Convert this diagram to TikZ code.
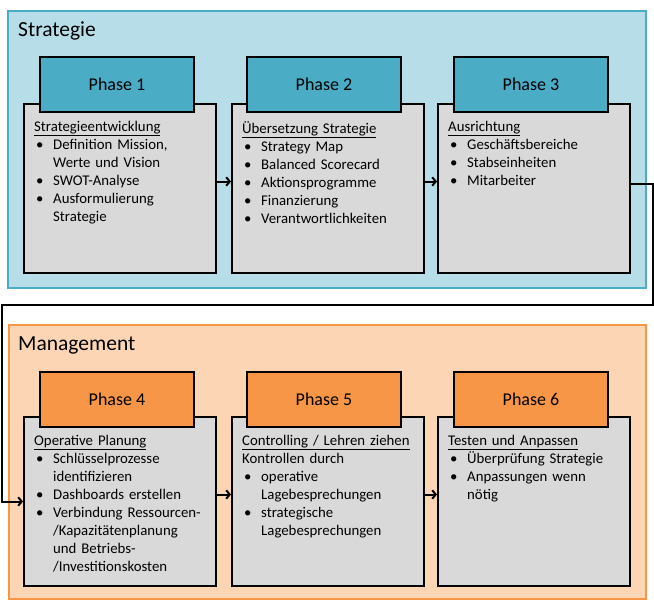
\documentclass[tikz,border=0pt]{standalone}
\usepackage{fontspec}
\setmainfont{Carlito}
\usetikzlibrary{arrows.meta}
\setlength{\parindent}{0pt}

\definecolor{stratfill}{HTML}{B7DEE8}
\definecolor{stratline}{HTML}{4BACC6}
\definecolor{mgmtfill}{HTML}{FCD5B5}
\definecolor{mgmtline}{HTML}{F79646}
\definecolor{boxgray}{HTML}{D9D9D9}

% bullet item, and a continued line under its text
\newcommand{\bul}{\par\noindent\makebox[19bp][l]{\hspace{2bp}\textbullet}}
\newcommand{\cont}{\par\noindent\hspace*{19bp}}

\begin{document}
\begin{tikzpicture}[x=1bp, y=-1bp, >={Straight Barb[length=3.5bp,width=8.5bp]},
        panel/.style={draw, line width=2bp, anchor=north west, inner sep=0pt},
        phasebox/.style={draw, line width=2bp, fill=boxgray, anchor=north west,
            minimum width=192bp, minimum height=169bp, inner sep=0pt},
        phasehead/.style={draw, line width=2bp, anchor=north west,
            minimum width=154bp, minimum height=55bp, inner sep=0pt,
            font=\fontsize{18bp}{21bp}\selectfont},
        phasetext/.style={anchor=north west, text width=185bp, align=left, inner sep=0pt,
            font=\fontsize{14.8bp}{18bp}\selectfont},
        title/.style={anchor=base west, inner sep=0pt, font=\fontsize{21.5bp}{25bp}\selectfont},
        conn/.style={->, line width=2bp}]
    \useasboundingbox (0,0) rectangle (654,602);

    % the two areas
    \node[panel, fill=stratfill, draw=stratline, minimum width=638bp, minimum height=277bp] (strat) at (7,10) {};
    \node[panel, fill=mgmtfill, draw=mgmtline, minimum width=637bp, minimum height=274bp] (mgmt) at (8,324) {};
    \node[title] (stratlbl) at (18,37) {Strategie};
    \node[title] (mgmtlbl)  at (18,350) {Management};

    % Strategie
    \node[phasebox] (b1) at (23,103) {};
    \node[phasebox] (b2) at (231,103) {};
    \node[phasebox] (b3) at (437,103) {};
    \node[phasehead, fill=stratline] (h1) at (39,56) {Phase 1};
    \node[phasehead, fill=stratline] (h2) at (246,56) {Phase 2};
    \node[phasehead, fill=stratline] (h3) at (453,56) {Phase 3};

    \node[phasetext] (t1) at (34,121) {\underline{Strategieentwicklung}
        \bul Definition Mission,
        \cont Werte und Vision
        \bul SWOT-Analyse
        \bul Ausformulierung
        \cont Strategie};
    \node[phasetext] (t2) at (242,121) {\underline{Übersetzung Strategie}
        \bul Strategy Map
        \bul Balanced Scorecard
        \bul Aktionsprogramme
        \bul Finanzierung
        \bul Verantwortlichkeiten};
    \node[phasetext] (t3) at (448,121) {\underline{Ausrichtung}
        \bul Geschäftsbereiche
        \bul Stabseinheiten
        \bul Mitarbeiter};

    % Management
    \node[phasebox] (b4) at (23,416) {};
    \node[phasebox] (b5) at (231,416) {};
    \node[phasebox] (b6) at (437,416) {};
    \node[phasehead, fill=mgmtline] (h4) at (39,371) {Phase 4};
    \node[phasehead, fill=mgmtline] (h5) at (246,371) {Phase 5};
    \node[phasehead, fill=mgmtline] (h6) at (453,371) {Phase 6};

    \node[phasetext] (t4) at (34,435) {\underline{Operative Planung}
        \bul Schlüsselprozesse
        \cont identifizieren
        \bul Dashboards erstellen
        \bul Verbindung Ressourcen-
        \cont /Kapazitätenplanung
        \cont und Betriebs-
        \cont /Investitionskosten};
    \node[phasetext] (t5) at (242,435) {\underline{Controlling / Lehren ziehen}\par
        Kontrollen durch
        \bul operative
        \cont Lagebesprechungen
        \bul strategische
        \cont Lagebesprechungen};
    \node[phasetext] (t6) at (448,435) {\underline{Testen und Anpassen}
        \bul Überprüfung Strategie
        \bul Anpassungen wenn
        \cont nötig};

    % connectors
    \coordinate (r1) at (653,305);
    \coordinate (r2) at (2,305);

    \draw[conn] ([yshift=7bp]b1.east) -- ([yshift=7bp]b2.west);
    \draw[conn] ([yshift=7bp]b2.east) -- ([yshift=7bp]b3.west);
    \draw[conn] ([yshift=5bp]b3.east) -| (r1) -- (r2) |- (b4.west);
    \draw[conn] ([yshift=7bp]b4.east) -- ([yshift=7bp]b5.west);
    \draw[conn] ([yshift=7bp]b5.east) -- ([yshift=7bp]b6.west);
\end{tikzpicture}
\end{document}
